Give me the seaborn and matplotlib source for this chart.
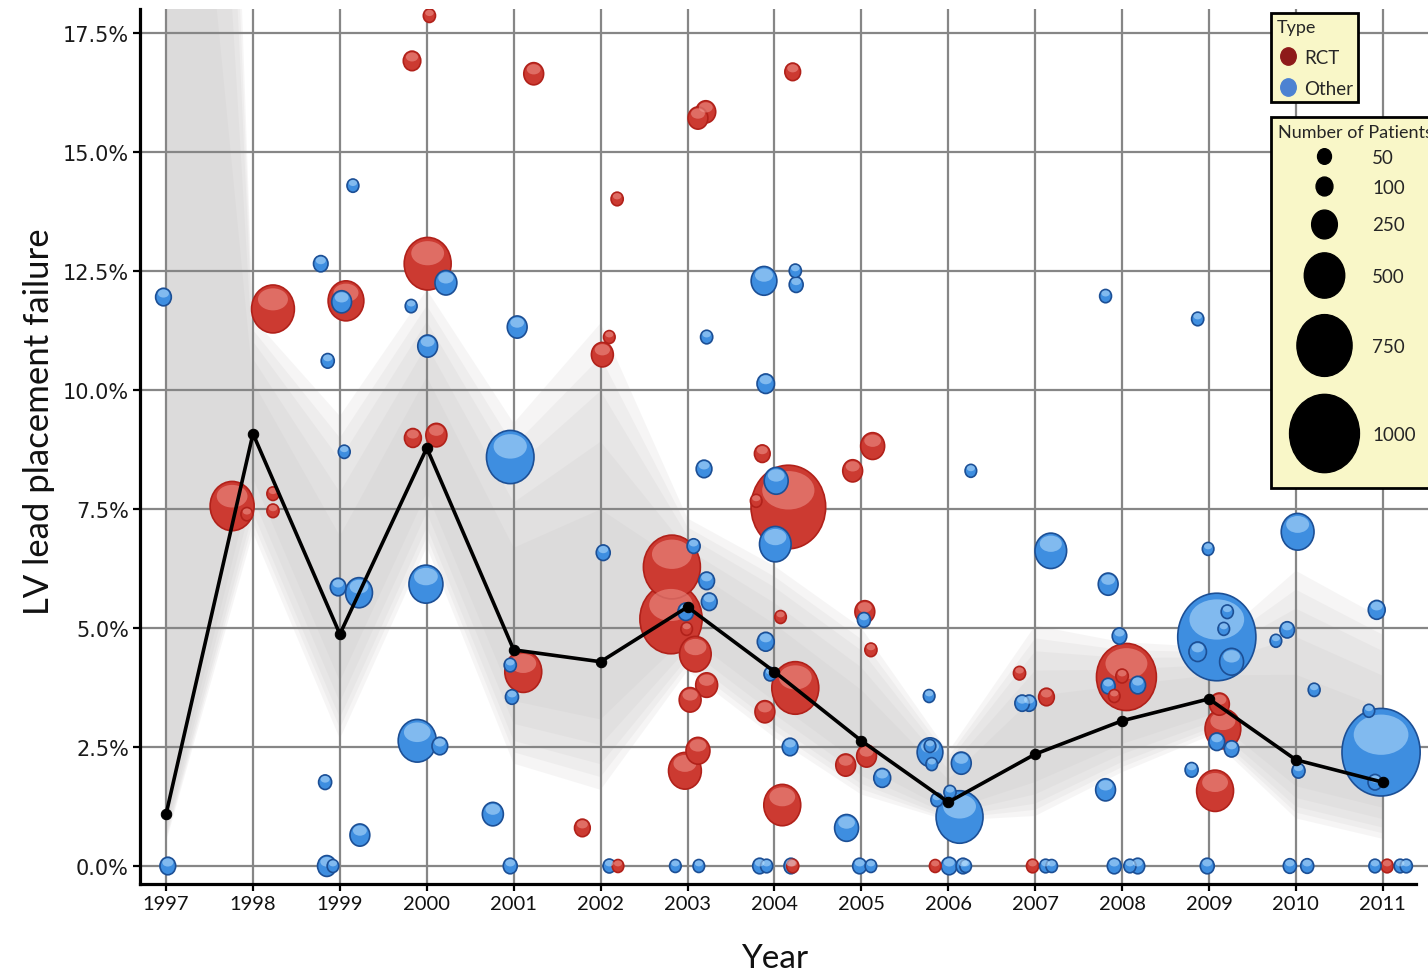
import numpy as np
import pandas as pd
import matplotlib
matplotlib.use("Agg")
import matplotlib.pyplot as plt
import seaborn as sns
from matplotlib.path import Path
from matplotlib.markers import MarkerStyle
from matplotlib.lines import Line2D
from matplotlib.legend_handler import HandlerLine2D

R, O = "RCT", "Other"

# ---- study-level data: position (year, jittered), failure rate (%), size, design ----
year_pos = [
    1996.97, 1997.02,
    1997.76, 1997.93, 1998.23, 1998.23, 1998.23,
    1998.78, 1998.86, 1999.07, 1999.02, 1999.15, 1999.05, 1998.98, 1999.22, 1998.83, 1999.23, 1998.85, 1998.92,
    2000.03, 1999.83, 2000.01, 2000.22, 1999.82, 2000.01, 1999.84, 2000.11, 1999.99, 1999.89, 2000.15, 2000.76,
    2001.23, 2001.04, 2000.96, 2001.11, 2000.96, 2000.98, 2000.96,
    2002.19, 2002.10, 2002.02, 2002.03, 2001.79, 2002.10, 2002.20,
    2003.21, 2003.12, 2003.22, 2003.19, 2002.82, 2002.81, 2003.07, 2003.22, 2003.25, 2002.98, 2002.99, 2003.09,
    2003.22, 2003.03, 2003.12, 2002.97, 2002.86, 2003.13,
    2004.21, 2003.88, 2004.24, 2004.25, 2003.90, 2003.86, 2004.16, 2003.79, 2004.02, 2004.01, 2004.07, 2003.90,
    2003.95, 2004.24, 2003.89, 2004.18, 2004.09, 2003.83, 2003.91, 2004.19, 2004.21,
    2004.90, 2005.13, 2005.04, 2005.03, 2005.11, 2004.82, 2005.06, 2005.24, 2004.83, 2004.98, 2005.11,
    2005.78, 2005.79, 2005.79, 2005.81, 2006.15, 2006.13, 2006.02, 2005.87, 2005.85, 2006.01, 2006.17, 2006.20, 2006.26,
    2007.18, 2006.82, 2007.13, 2006.85, 2006.93, 2006.97, 2007.12, 2007.19,
    2007.81, 2007.84, 2007.97, 2008.05, 2008.00, 2007.91, 2007.84, 2008.18, 2007.81, 2007.91, 2008.09, 2008.18,
    2008.87, 2008.99, 2009.09, 2009.21, 2009.17, 2008.87, 2009.26, 2009.12, 2009.16, 2009.09, 2009.26, 2008.80,
    2009.07, 2008.98,
    2010.02, 2009.90, 2009.77, 2010.21, 2010.03, 2009.93, 2010.13,
    2010.93, 2010.84, 2010.98, 2010.91, 2010.91, 2011.05, 2011.20, 2011.27,
]
rate = [
    11.95, 0.00,
    7.56, 7.39, 7.82, 7.46, 11.70,
    12.65, 10.61, 11.87, 11.85, 14.29, 8.70, 5.86, 5.74, 1.76, 0.65, 0.00, 0.00,
    17.86, 16.91, 12.65, 12.25, 11.76, 10.92, 8.99, 9.05, 5.92, 2.63, 2.52, 1.09,
    16.64, 11.32, 8.59, 4.08, 4.22, 3.55, 0.00,
    14.01, 11.11, 10.74, 6.58, 0.80, 0.00, 0.00,
    15.84, 15.71, 11.11, 8.34, 6.28, 5.19, 6.72, 5.99, 5.55, 5.34, 4.98, 4.45,
    3.80, 3.49, 2.42, 2.00, 0.00, 0.00,
    16.68, 12.29, 12.50, 12.21, 10.13, 8.66, 7.54, 7.67, 8.09, 6.76, 5.23, 4.71,
    4.03, 3.74, 3.24, 2.50, 1.28, 0.00, 0.00, 0.00, 0.00,
    8.30, 8.82, 5.34, 5.17, 4.54, 2.12, 2.31, 1.85, 0.80, 0.00, 0.00,
    3.57, 2.39, 2.52, 2.14, 2.16, 1.03, 1.55, 1.39, 0.00, 0.00, 0.00, 0.00, 8.30,
    6.62, 4.05, 3.55, 3.42, 3.42, 0.00, 0.00, 0.00,
    11.97, 5.92, 4.83, 3.97, 3.99, 3.57, 3.78, 3.80, 1.60, 0.00, 0.00, 0.00,
    11.49, 6.66, 4.81, 5.34, 4.98, 4.50, 4.29, 3.40, 2.88, 2.61, 2.46, 2.02,
    1.58, 0.00,
    7.02, 4.96, 4.73, 3.70, 2.00, 0.00, 0.00,
    5.38, 3.26, 2.39, 1.76, 0.00, 0.00, 0.00, 0.00,
]
patients = [
    80, 80,
    560, 15, 20, 20, 540,
    60, 35, 420, 150, 15, 15, 80, 270, 35, 150, 130, 10,
    20, 110, 610, 185, 15, 150, 100, 170, 390, 460, 80, 170,
    150, 150, 620, 440, 20, 35, 50,
    20, 10, 185, 50, 80, 25, 10,
    150, 150, 20, 80, 780, 870, 35, 80, 80, 80, 10, 350,
    185, 185, 220, 370, 10, 10,
    80, 250, 20, 50, 110, 80, 1080, 10, 220, 350, 10, 100,
    20, 610, 150, 80, 440, 50, 20, 50, 20,
    150, 220, 150, 35, 20, 150, 150, 100, 220, 50, 10,
    10, 250, 10, 10, 150, 610, 20, 20, 10, 80, 50, 10, 10,
    350, 20, 80, 60, 60, 20, 20, 10,
    15, 150, 60, 830, 25, 10, 50, 80, 150, 50, 20, 50,
    20, 10, 1140, 20, 10, 110, 220, 150, 420, 80, 60, 35,
    440, 50,
    370, 60, 10, 15, 35, 35, 35,
    100, 10, 1140, 50, 20, 20, 20, 20,
]
study_type = [
    O, O,
    R, R, R, R, R,
    O, O, R, O, O, O, O, O, O, O, O, O,
    R, R, R, O, O, O, R, R, O, O, O, O,
    R, O, O, R, O, O, O,
    R, R, R, O, R, O, R,
    R, R, O, O, R, R, O, O, O, O, R, R,
    R, R, R, R, O, O,
    R, O, O, O, O, R, R, R, O, O, R, O,
    O, R, R, O, R, O, O, O, R,
    R, R, R, O, R, R, R, O, O, O, O,
    O, O, O, O, O, O, O, O, R, O, O, O, O,
    O, R, R, O, O, R, O, O,
    O, O, O, R, R, R, O, O, O, O, O, O,
    O, O, O, O, O, O, O, R, R, O, O, O,
    R, O,
    O, O, O, O, O, O, O,
    O, O, O, O, O, R, O, O,
]

# ---- yearly pooled estimate and its confidence band (%) ----
years = list(range(1997, 2012))
year_labels = [str(y) for y in years]
mean_rate = [1.09, 9.08, 4.87, 8.78, 4.54, 4.29, 5.44, 4.08, 2.63, 1.34, 2.35, 3.05, 3.51, 2.23, 1.76]
ci_low = [0.50, 7.00, 2.67, 6.70, 2.15, 1.60, 4.10, 2.70, 1.50, 0.95, 1.05, 1.97, 2.73, 1.00, 0.57]
ci_high = [63.0, 11.50, 9.45, 12.10, 9.30, 11.40, 7.30, 6.30, 5.00, 2.40, 5.05, 4.70, 4.60, 6.20, 5.20]

ytick_values = [0, 2.5, 5, 7.5, 10, 12.5, 15, 17.5]
ytick_labels = ["0.0%", "2.5%", "5.0%", "7.5%", "10.0%", "12.5%", "15.0%", "17.5%"]
type_labels = ["RCT", "Other"]
legend_counts = [50, 100, 250, 500, 750, 1000]

DPI = 100
ASPECT = 1.12  # bubbles are drawn slightly taller than wide

fill_pal = {"RCT": "#cc3a31", "Other": "#3e8ee0"}
edge_pal = {"RCT": "#b1211a", "Other": "#1c4f95"}
shine_pal = {"RCT": "#f3a098", "Other": "#c4e6ff"}
key_pal = {"RCT": "#8e1a1a", "Other": "#4c82d2"}


def ellipse(cx=0.0, cy=0.0, rx=1.0, ry=1.0):
    circ = Path.unit_circle()
    return circ.vertices * [rx, ry] + [cx, cy], circ.codes


body_v, body_c = ellipse(rx=1 / ASPECT)
body_marker = MarkerStyle(Path(body_v, body_c))
# glossy highlight in the upper part of each bubble; the leading anchor
# vertex keeps it scaled on the same unit as the body marker
shine_v, shine_c = ellipse(cy=0.40, rx=0.70 / ASPECT, ry=0.46)
shine_marker = MarkerStyle(Path(np.vstack([[0.0, -1.0], shine_v]),
                                np.concatenate([[Path.MOVETO], shine_c])))


def bubble_area(n):
    """Marker area (pt^2); bubble radius grows linearly with patient count."""
    height_px = 12.3 + 0.066 * n
    return (height_px * 72.0 / DPI) ** 2


studies = pd.DataFrame({"year_pos": year_pos, "rate": rate,
                        "patients": patients, "type": study_type})
size_areas = {n: bubble_area(n) for n in sorted(set(patients) | set(legend_counts))}

sns.set_theme(style="white")
plt.rcParams["font.family"] = ["DejaVu Sans"]

fig = plt.figure(figsize=(14.28, 9.78), dpi=DPI)
ax = fig.add_axes([140 / 1428, 1 - 885 / 978, 1 - 140 / 1428, 875 / 978])

# confidence band, built from nested layers so the edges fade out
for frac in [1.0, 0.9, 0.8, 0.65, 0.45]:
    lo = [m - frac * (m - l) for m, l in zip(mean_rate, ci_low)]
    hi = [m + frac * (h - m) for m, h in zip(mean_rate, ci_high)]
    ax.fill_between(years, lo, hi, color="#c2bdbd", alpha=0.14, linewidth=0, zorder=0.2)

# bubbles, largest first so small studies stay visible on top
size_bins = [(700, np.inf), (300, 700), (100, 300), (0, 100)]
for k, (lo_n, hi_n) in enumerate(size_bins):
    part = studies[(studies.patients >= lo_n) & (studies.patients < hi_n)]
    part = part.sort_values("patients", ascending=False)
    z = 3 + 2 * k
    sns.scatterplot(data=part, x="year_pos", y="rate", hue="type", size="patients",
                    sizes=size_areas, palette=fill_pal, marker=body_marker,
                    linewidth=1.2, legend=False, ax=ax, zorder=z)
    ax.collections[-1].set_edgecolor(part["type"].map(edge_pal).tolist())
    sns.scatterplot(data=part, x="year_pos", y="rate", hue="type", size="patients",
                    sizes=size_areas, palette=shine_pal, marker=shine_marker,
                    linewidth=0, alpha=0.5, legend=False, ax=ax, zorder=z + 1)

# pooled yearly estimate
sns.lineplot(x=years, y=mean_rate, color="black", linewidth=2.6, marker="o",
             markersize=7.5, markeredgecolor="black", errorbar=None, ax=ax, zorder=20)

ax.set_xlim(1996.70, 2011.52)
ax.set_ylim(-0.378, 18.0)
ax.set_xticks(years, labels=year_labels, fontfamily="Lato", fontsize=14.5, color="#111111")
ax.set_yticks(ytick_values, labels=ytick_labels, fontfamily="DejaVu Sans", fontsize=15,
              color="#1a1a1a")
ax.grid(True, color="#868686", linewidth=1.6)
ax.set_axisbelow(True)
for side in ["top", "right"]:
    ax.spines[side].set_visible(False)
for side in ["left", "bottom"]:
    ax.spines[side].set_color("black")
    ax.spines[side].set_linewidth(2.3)
ax.spines["bottom"].set_bounds(1996.70, 2011.38)
ax.tick_params(axis="both", direction="out", length=5, width=1.6, color="black", pad=3,
               bottom=True, left=True)

ax.set_xlabel("Year", fontfamily="Lato", fontsize=24, color="#111111")
ax.xaxis.set_label_coords(0.493, -0.068)
ax.set_ylabel("LV lead placement failure", fontfamily="Lato", fontsize=25, color="#111111")
ax.yaxis.set_label_coords(-0.066, 0.529)


class SpacedRowHandler(HandlerLine2D):
    """Line2D legend handler whose row grows to fit a large marker."""

    def __init__(self, row_pts, **kw):
        super().__init__(**kw)
        self.row_pts = row_pts

    def legend_artist(self, legend, orig_handle, fontsize, handlebox):
        extra = max(0.0, self.row_pts - handlebox.height)
        handlebox.height += extra
        handlebox.ydescent += extra / 2
        return super().legend_artist(legend, orig_handle, fontsize, handlebox)

    def create_artists(self, legend, orig_handle, xdescent, ydescent, width, height,
                       fontsize, trans):
        artists = super().create_artists(legend, orig_handle, xdescent, ydescent,
                                         width, height, fontsize, trans)
        for a in artists:
            xd = np.asarray(a.get_xdata(), dtype=float)
            a.set_ydata(np.full_like(xd, height / 2 - ydescent))
        return artists


leg_font = {"family": "Lato", "size": 13.5}
title_font = {"family": "Lato", "size": 13.0}
box_kw = dict(loc="upper left", bbox_transform=fig.transFigure, prop=leg_font,
              title_fontproperties=title_font, alignment="left", frameon=True,
              fancybox=False, framealpha=1, facecolor="#f9f7c8", edgecolor="black",
              borderaxespad=0)

type_handles = [Line2D([], [], linestyle="none", marker=body_marker, markersize=12.5,
                       markerfacecolor=key_pal[t], markeredgecolor=key_pal[t])
                for t in type_labels]
leg_type = fig.legend(type_handles, type_labels, title="Type",
                      bbox_to_anchor=(1271 / 1428, 1 - 14 / 978),
                      handlelength=1.2, handletextpad=0.25, labelspacing=0.75,
                      borderpad=0.3, **box_kw)
leg_type.get_frame().set_linewidth(2)

size_handles = [Line2D([], [], linestyle="none", marker=body_marker,
                       markersize=np.sqrt(size_areas[n]), color="black")
                for n in legend_counts]
size_handlers = {h: SpacedRowHandler(1.1 * np.sqrt(size_areas[n]) + 5.5)
                 for h, n in zip(size_handles, legend_counts)}
leg_size = fig.legend(size_handles, [str(n) for n in legend_counts],
                      title="Number of Patients", handler_map=size_handlers,
                      bbox_to_anchor=(1271 / 1428, 1 - 118 / 978),
                      handlelength=4.8, handletextpad=0.2, labelspacing=0.18,
                      borderpad=0.4, **box_kw)
leg_size.get_frame().set_linewidth(2)

fig.savefig("out.png", dpi=DPI, facecolor="white")
